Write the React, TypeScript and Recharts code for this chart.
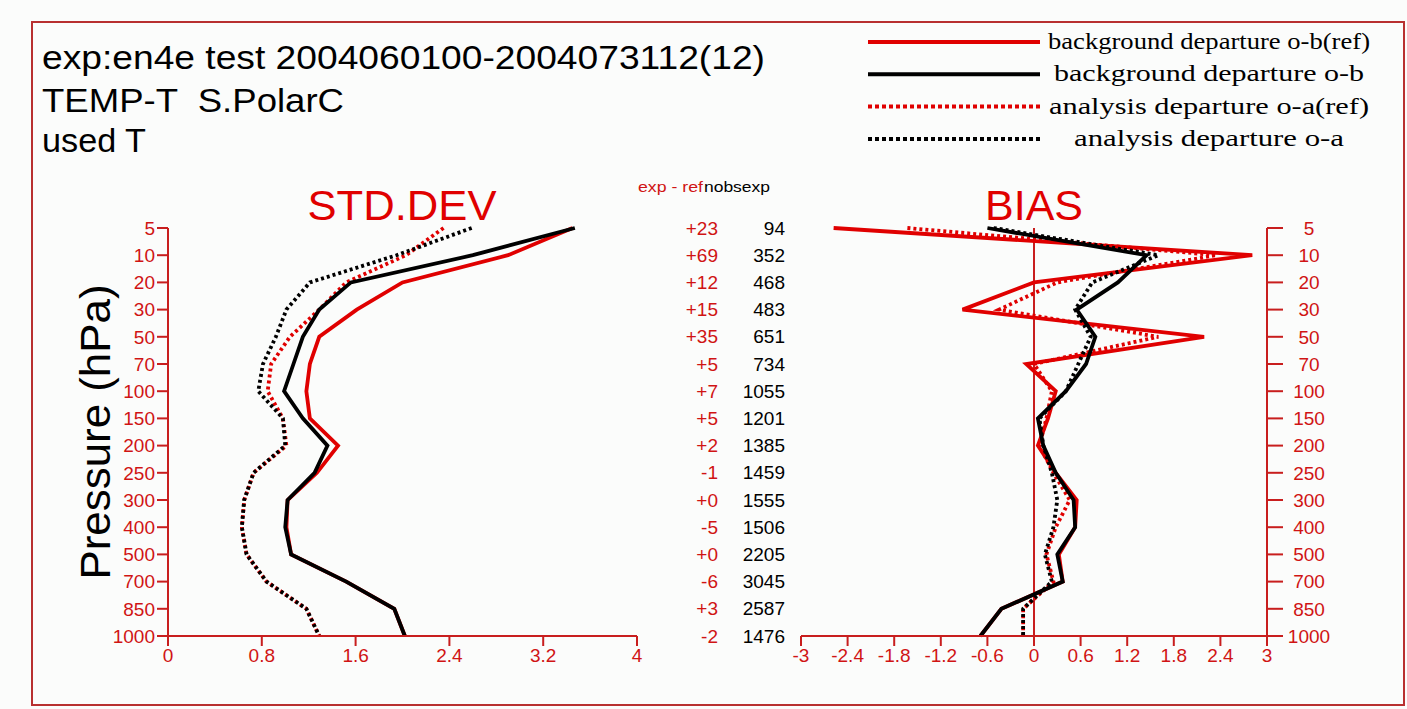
import { LineChart, Line, XAxis, YAxis, ReferenceLine } from 'recharts';

// pressure levels, top to bottom
const levels = ['5', '10', '20', '30', '50', '70', '100', '150', '200', '250', '300', '400', '500', '700', '850', '1000'];

// STD.DEV panel
const stdBgRef = [3.45, 2.9, 2.0, 1.61, 1.29, 1.21, 1.18, 1.21, 1.45, 1.27, 1.02, 1.01, 1.05, 1.52, 1.93, 2.02];
const stdBgExp = [3.47, 2.6, 1.56, 1.29, 1.15, 1.07, 0.99, 1.15, 1.36, 1.25, 1.02, 1.0, 1.05, 1.52, 1.93, 2.02];
const stdAnRef = [2.35, 2.03, 1.52, 1.29, 1.04, 0.88, 0.85, 0.98, 1.01, 0.73, 0.65, 0.63, 0.67, 0.84, 1.18, 1.29];
const stdAnExp = [2.59, 1.95, 1.21, 1.01, 0.92, 0.81, 0.77, 0.98, 1.0, 0.73, 0.65, 0.63, 0.67, 0.84, 1.18, 1.29];

// BIAS panel
const biasBgRef = [-2.58, 2.81, 0.0, -0.92, 2.19, -0.1, 0.28, 0.18, 0.05, 0.28, 0.55, 0.53, 0.32, 0.37, -0.42, -0.69];
const biasBgExp = [-0.6, 1.45, 1.08, 0.55, 0.79, 0.67, 0.41, 0.05, 0.12, 0.28, 0.51, 0.53, 0.3, 0.37, -0.42, -0.69];
const biasAnRef = [-1.63, 2.35, 0.3, -0.45, 1.6, 0.0, 0.23, 0.16, 0.07, 0.25, 0.46, 0.28, 0.16, 0.25, -0.14, -0.14];
const biasAnExp = [-0.52, 1.6, 0.75, 0.53, 0.73, 0.57, 0.41, 0.07, 0.12, 0.23, 0.3, 0.25, 0.14, 0.23, -0.14, -0.14];

// middle columns
const expMinusRef = ['+23', '+69', '+12', '+15', '+35', '+5', '+7', '+5', '+2', '-1', '+0', '-5', '+0', '-6', '+3', '-2'];
const nobsExp = ['94', '352', '468', '483', '651', '734', '1055', '1201', '1385', '1459', '1555', '1506', '2205', '3045', '2587', '1476'];

const stdTicks = [0, 0.8, 1.6, 2.4, 3.2, 4];
const biasTicks = [-3, -2.4, -1.8, -1.2, -0.6, 0, 0.6, 1.2, 1.8, 2.4, 3];

const legendItems = [
  { label: 'background departure o-b(ref)', color: '#e00000', dash: undefined, width: 322 },
  { label: 'background departure o-b', color: '#000000', dash: undefined, width: 310 },
  { label: 'analysis departure o-a(ref)', color: '#e00000', dash: '4 3', width: 320 },
  { label: 'analysis departure o-a', color: '#000000', dash: '4 3', width: 270 },
];

const RED = '#e00000';
const AXIS = '#c81e1e';
const SANS = '"Liberation Sans", Arial, sans-serif';
const SERIF = '"Liberation Serif", "Times New Roman", serif';
const tickStyle = { fill: '#d01414', fontSize: 19, fontFamily: SANS };

const stdRows = levels.map((p, i) => ({
  p,
  bgRef: stdBgRef[i],
  bgExp: stdBgExp[i],
  anRef: stdAnRef[i],
  anExp: stdAnExp[i],
}));

const biasRows = levels.map((p, i) => ({
  p,
  bgRef: biasBgRef[i],
  bgExp: biasBgExp[i],
  anRef: biasAnRef[i],
  anExp: biasAnExp[i],
}));

function CountTick(props: any) {
  const { x, y, payload } = props;
  const i = levels.indexOf(String(payload.value));
  return (
    <g>
      <text x={x + 81} y={y} dy="0.35em" textAnchor="end" fill="#d01414" fontSize={19} fontFamily={SANS}>
        {expMinusRef[i]}
      </text>
      <text x={x + 148} y={y} dy="0.35em" textAnchor="end" fill="#000" fontSize={19} fontFamily={SANS}>
        {nobsExp[i]}
      </text>
    </g>
  );
}

function series() {
  return [
    <Line key="bgRef" yAxisId="p" dataKey="bgRef" stroke={RED} strokeWidth={3.8} dot={false} isAnimationActive={false} />,
    <Line key="anRef" yAxisId="p" dataKey="anRef" stroke={RED} strokeWidth={3.8} strokeDasharray="3 3" dot={false} isAnimationActive={false} />,
    <Line key="bgExp" yAxisId="p" dataKey="bgExp" stroke="#000" strokeWidth={3.8} dot={false} isAnimationActive={false} />,
    <Line key="anExp" yAxisId="p" dataKey="anExp" stroke="#000" strokeWidth={3.8} strokeDasharray="3 3" dot={false} isAnimationActive={false} />,
  ];
}

export default function App() {
  return (
    <div style={{ position: 'absolute', left: 0, top: 0, width: 1407, height: 709, background: '#fbfcfb' }}>
      <svg width={1407} height={709} style={{ position: 'absolute', left: 0, top: 0 }}>
        <rect x={32} y={22} width={1372} height={683} fill="none" stroke="#b83030" strokeWidth={2} />

        <g fontFamily={SANS} fill="#000">
          <text x={42} y={69} fontSize={33} textLength={723} lengthAdjust="spacingAndGlyphs">
            exp:en4e test 2004060100-2004073112(12)
          </text>
          <text x={42} y={112} fontSize={33} textLength={302} lengthAdjust="spacingAndGlyphs" xmlSpace="preserve">
            TEMP-T  S.PolarC
          </text>
          <text x={42} y={152} fontSize={33} textLength={104} lengthAdjust="spacingAndGlyphs">
            used T
          </text>
        </g>

        {legendItems.map((it, i) => {
          const y = 42 + i * 32.3;
          return (
            <g key={it.label}>
              <line x1={868} x2={1040} y1={y} y2={y} stroke={it.color} strokeWidth={4} strokeDasharray={it.dash} />
              <text
                x={1209}
                y={y + 7}
                textAnchor="middle"
                fontFamily={SERIF}
                fontSize={23}
                fill="#000"
                textLength={it.width}
                lengthAdjust="spacingAndGlyphs"
              >
                {it.label}
              </text>
            </g>
          );
        })}

        <text x={402} y={220} textAnchor="middle" fontFamily={SANS} fontSize={42} fill={RED} textLength={189} lengthAdjust="spacingAndGlyphs">
          STD.DEV
        </text>
        <text x={1034} y={220} textAnchor="middle" fontFamily={SANS} fontSize={42} fill={RED} textLength={98} lengthAdjust="spacingAndGlyphs">
          BIAS
        </text>
        <text
          transform="translate(95,432) rotate(-90)"
          textAnchor="middle"
          dominantBaseline="central"
          fontFamily={SANS}
          fontSize={42}
          fill="#000"
          textLength={295}
          lengthAdjust="spacingAndGlyphs"
        >
          Pressure (hPa)
        </text>

        <text x={638} y={192} fontFamily={SANS} fontSize={15} fill="#d01414" textLength={65} lengthAdjust="spacingAndGlyphs">
          exp - ref
        </text>
        <text x={704} y={192} fontFamily={SANS} fontSize={15} fill="#000" textLength={66} lengthAdjust="spacingAndGlyphs">
          nobsexp
        </text>
      </svg>

      {/* STD.DEV panel */}
      <div style={{ position: 'absolute', left: 0, top: 0 }}>
        <LineChart layout="vertical" width={800} height={709} data={stdRows} margin={{ top: 228, right: 13, bottom: 43, left: 108 }}>
          <XAxis
            type="number"
            domain={[0, 4]}
            ticks={stdTicks}
            allowDataOverflow
            height={30}
            tickSize={10}
            tickMargin={3}
            axisLine={{ stroke: AXIS, strokeWidth: 2 }}
            tickLine={{ stroke: AXIS, strokeWidth: 2 }}
            tick={tickStyle}
          />
          <YAxis
            yAxisId="p"
            type="category"
            dataKey="p"
            width={60}
            interval={0}
            tickSize={11}
            tickMargin={2}
            axisLine={{ stroke: AXIS, strokeWidth: 2 }}
            tickLine={{ stroke: AXIS, strokeWidth: 2 }}
            tick={tickStyle}
          />
          <YAxis
            yAxisId="n"
            orientation="right"
            type="category"
            dataKey="p"
            width={150}
            interval={0}
            tickSize={0}
            tickMargin={0}
            axisLine={false}
            tickLine={false}
            tick={<CountTick />}
          />
          {series()}
        </LineChart>
      </div>

      {/* BIAS panel */}
      <div style={{ position: 'absolute', left: 760, top: 0 }}>
        <LineChart layout="vertical" width={647} height={709} data={biasRows} margin={{ top: 228, right: 60, bottom: 43, left: 41 }}>
          <XAxis
            type="number"
            domain={[-3, 3]}
            ticks={biasTicks}
            allowDataOverflow
            height={30}
            tickSize={10}
            tickMargin={3}
            axisLine={{ stroke: AXIS, strokeWidth: 2 }}
            tickLine={{ stroke: AXIS, strokeWidth: 2 }}
            tick={tickStyle}
          />
          <YAxis
            yAxisId="p"
            type="category"
            dataKey="p"
            orientation="right"
            width={80}
            interval={0}
            tickSize={16}
            tickMargin={26}
            axisLine={{ stroke: AXIS, strokeWidth: 2 }}
            tickLine={{ stroke: AXIS, strokeWidth: 2 }}
            tick={{ ...tickStyle, textAnchor: 'middle' }}
          />
          <ReferenceLine yAxisId="p" x={0} stroke={AXIS} strokeWidth={2} />
          {series()}
        </LineChart>
      </div>
    </div>
  );
}
